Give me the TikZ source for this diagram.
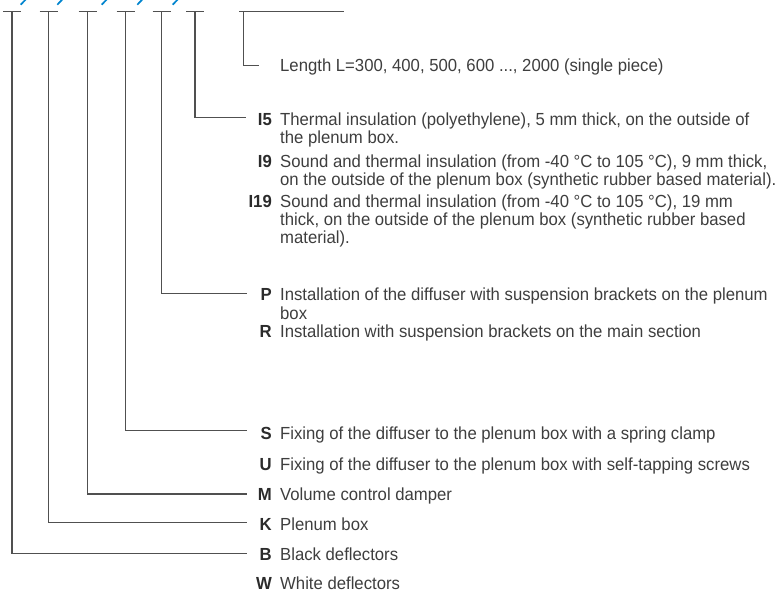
\documentclass[tikz,border=0pt]{standalone}
\usepackage{fontspec}
\setmainfont[FakeStretch=0.955]{Liberation Sans}
\definecolor{keyblue}{RGB}{0,132,206}
\definecolor{txtgray}{RGB}{62,62,62}
\definecolor{leadgray}{RGB}{80,80,80}

\begin{document}
\begin{tikzpicture}[x=1pt, y=-1pt,
    lead/.style={draw=leadgray, line width=1.2pt},
    code/.style={anchor=base east, inner sep=0pt, text=txtgray!70!black,
        font=\fontsize{17.5}{18.3}\selectfont\bfseries},
    desc/.style={anchor=base west, inner sep=0pt, text=txtgray,
        font=\fontsize{17.5}{18.3}\selectfont}]
    \useasboundingbox (0,0) rectangle (779,592);
    % slashes of the order code (cut off)
    \foreach \x in {20.7, 57.3, 101.7, 137.3, 172.7} {
        \draw[keyblue, line width=1.7pt] (\x,4.7) -- ++(6.4,-6.7);
    }
    % T-bars on top
    \foreach \x/\n in {12/b, 48.7/k, 87.7/m, 125.7/s, 161.7/p, 195/i} {
        \coordinate (top-\n) at (\x,11.7);
        \draw[lead] (\x-9,11.7) -- (\x+9,11.7);
    }
    \coordinate (top-l) at (243.7,11.7);
    \draw[lead] (239,11.7) -- (344,11.7);
    % line ends
    \coordinate (end-l) at (259,65.7);
    \coordinate (end-i) at (246,117.3);
    \coordinate (end-p) at (246.7,293.3);
    \coordinate (end-s) at (246.7,430.7);
    \coordinate (end-m) at (246.7,494);
    \coordinate (end-k) at (246.7,522.7);
    \coordinate (end-b) at (246.7,553.7);
    \foreach \n in {l, i, p, s, m, k, b} {
        \draw[lead] (top-\n) |- (end-\n);
    }
    % Length
    \node[desc] (d-l) at (280,71) {Length L=300, 400, 500, 600 ..., 2000 (single piece)};
    % Insulation
    \node[code] (c-i5) at (272,125.3) {I5};
    \node[desc] (d-i5) at (280,125.3) {Thermal insulation (polyethylene), 5 mm thick, on the outside of};
    \node[desc] (d-i5-2) at (280,143.6) {the plenum box.};
    \node[code] (c-i9) at (272,167.3) {I9};
    \node[desc] (d-i9) at (280,167.3) {Sound and thermal insulation (from -40 °C to 105 °C), 9 mm thick,};
    \node[desc] (d-i9-2) at (280,185.6) {on the outside of the plenum box (synthetic rubber based material).};
    \node[code] (c-i19) at (272,207.3) {I19};
    \node[desc] (d-i19) at (280,207.3) {Sound and thermal insulation (from -40 °C to 105 °C), 19 mm};
    \node[desc] (d-i19-2) at (280,225.6) {thick, on the outside of the plenum box (synthetic rubber based};
    \node[desc] (d-i19-3) at (280,243.9) {material).};
    % Installation
    \node[code] (c-p) at (272,300.7) {P};
    \node[desc] (d-p) at (280,300.7) {Installation of the diffuser with suspension brackets on the plenum};
    \node[desc] (d-p-2) at (280,319) {box};
    \node[code] (c-r) at (272,337.3) {R};
    \node[desc] (d-r) at (280,337.3) {Installation with suspension brackets on the main section};
    % Fixing, damper, box, deflectors
    \foreach \c/\y/\t in {S/439.3/Fixing of the diffuser to the plenum box with a spring clamp,
        U/470/Fixing of the diffuser to the plenum box with self-tapping screws,
        M/500/Volume control damper,
        K/530/Plenum box,
        B/560/Black deflectors,
        W/589.3/White deflectors} {
        \node[code] (c-\c) at (272,\y) {\c};
        \node[desc] (d-\c) at (280,\y) {\t};
    }
\end{tikzpicture}
\end{document}
